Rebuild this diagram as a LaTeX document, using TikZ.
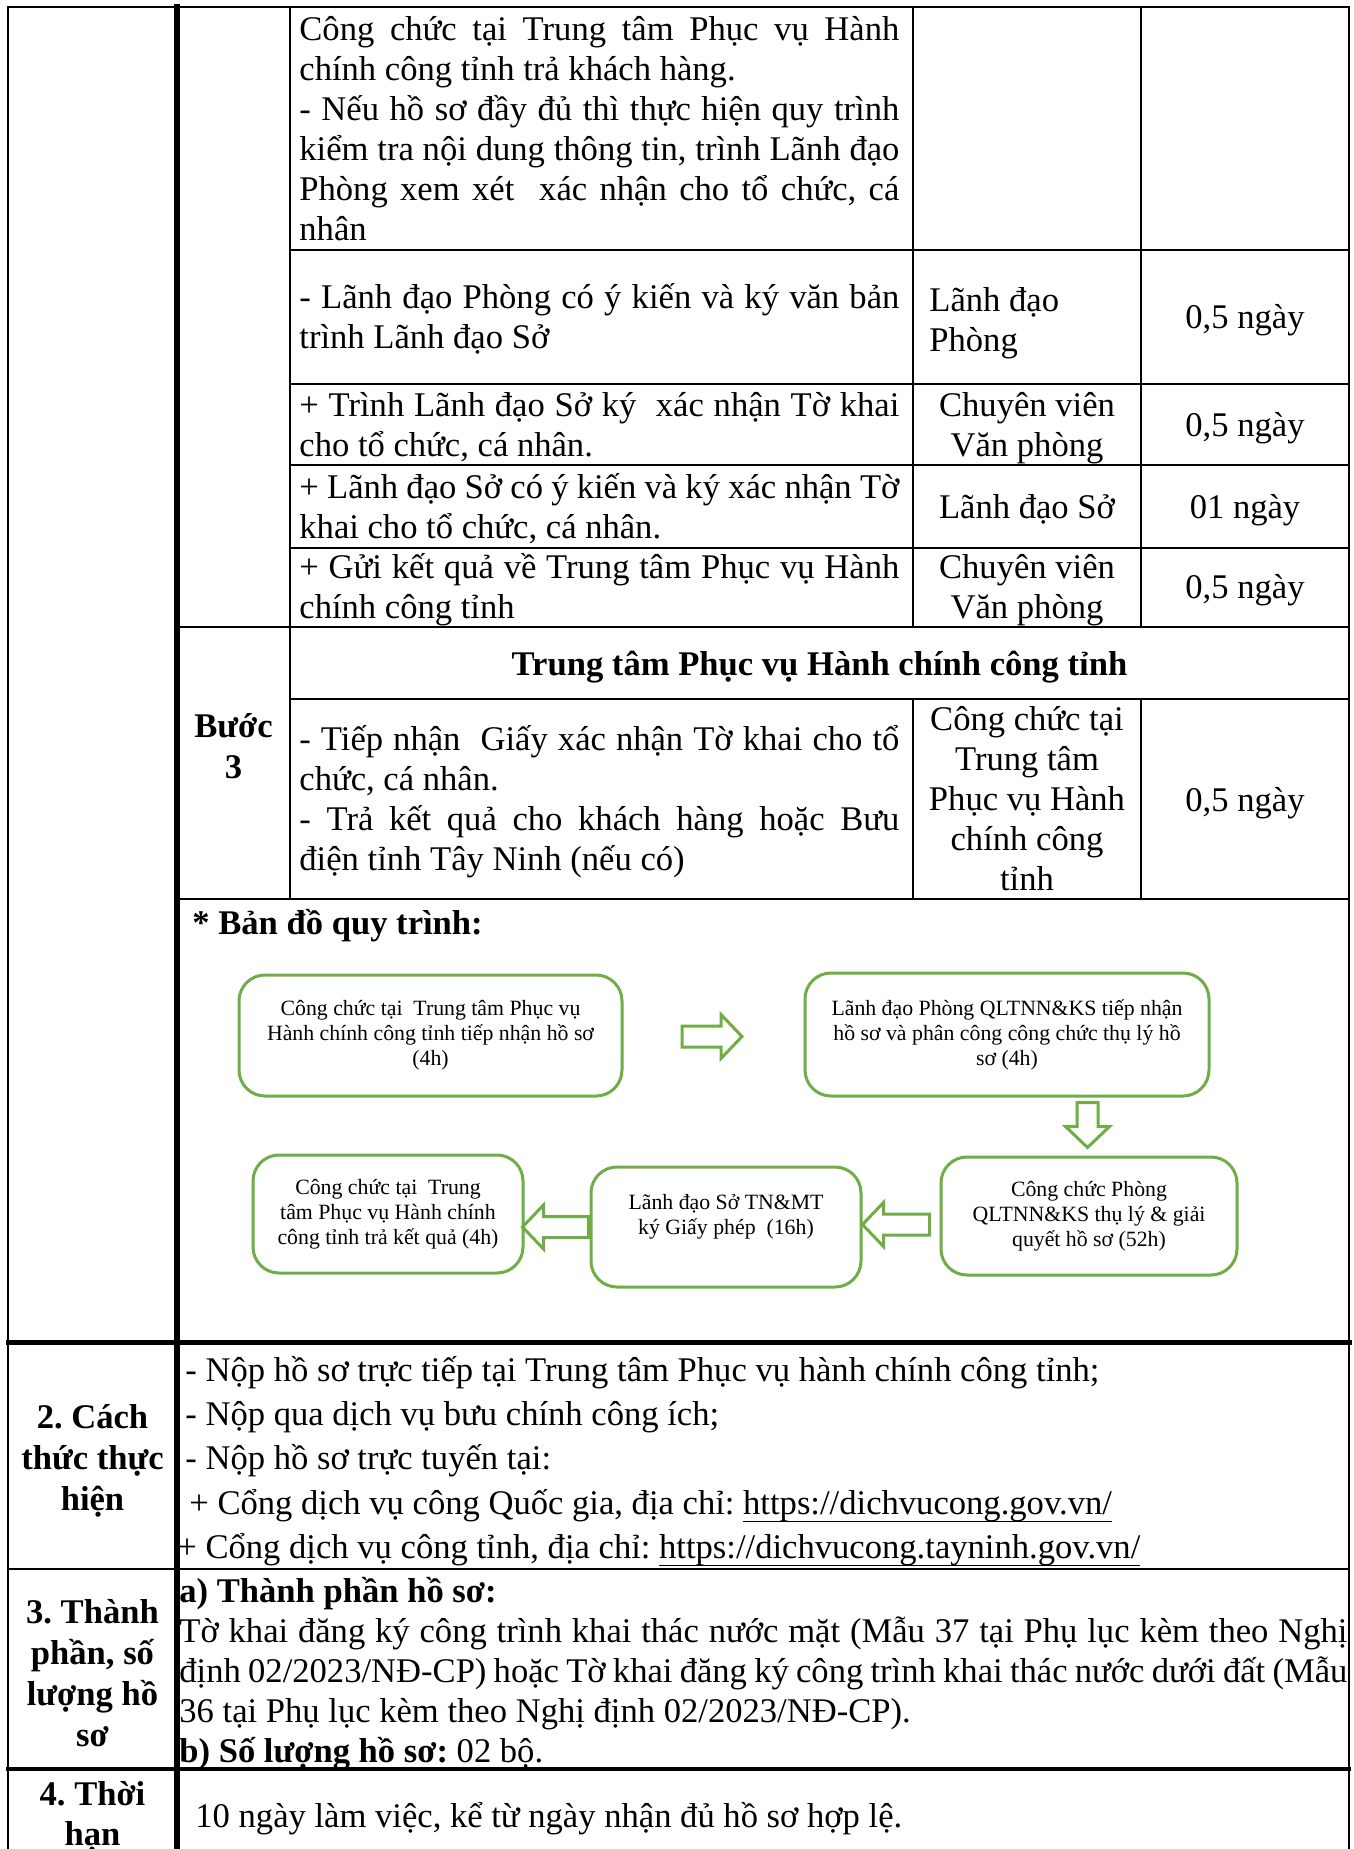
\documentclass[tikz,border=0pt]{standalone}
\usepackage{fontspec}
\setmainfont{Liberation Serif}
\usetikzlibrary{calc}
\frenchspacing
\definecolor{fgreen}{HTML}{70AD47}
\newcommand{\J}[2][300pt]{{\spaceskip=0.25em plus 0.25em minus 0.09em\relax\makebox[#1][s]{#2}}}
\newcommand{\ulink}[1]{\setbox0=\hbox{#1}\rlap{\rule[-3.9pt]{\wd0}{0.7pt}}\box0}
\newcommand{\blockarr}[3]{%
  \draw[barrow, shift={#1}, rotate=#2] (0,0) -- (-21,-22) -- (-21,-10.5) -- (-#3,-10.5) -- (-#3,10.5) -- (-21,10.5) -- (-21,22) -- cycle;}
\tikzset{
  tl/.style={line width=1.25pt, line cap=rect},
  tk/.style={line width=3pt, line cap=rect},
  tx/.style={inner sep=0pt, anchor=base west, align=flush left, font=\fontsize{17.3}{20}\selectfont},
  txc/.style={inner sep=0pt, anchor=base, align=flush center, font=\fontsize{17.3}{20}\selectfont},
  txb/.style={inner sep=0pt, anchor=base, align=flush center, font=\fontsize{17.3}{20.5}\selectfont\bfseries},
  fbox/.style={draw=fgreen, line width=1.5pt, rounded corners=13pt, fill=white, inner sep=0pt, align=flush center, font=\fontsize{10.9}{12.5}\selectfont},
  barrow/.style={draw=fgreen, line width=1.5pt, fill=white, line join=miter},
}
\begin{document}
\begin{tikzpicture}[x=0.5pt,y=-0.5pt]
\fill[white] (0,0) rectangle (1354,1849);
\useasboundingbox (0,0) rectangle (1354,1849);

% ---------- table lines ----------
\draw[tl] (8,7) -- (1349,7);
\draw[line width=1pt] (8,7) -- (8,1849);
\draw[tl] (1349,7) -- (1349,1849);
\draw[tl] (290,7) -- (290,899);
\draw[tl] (913,7) -- (913,627);
\draw[tl] (913,699) -- (913,899);
\draw[tl] (1141,7) -- (1141,627);
\draw[tl] (1141,699) -- (1141,899);
\draw[tl] (290,250) -- (1349,250);
\draw[tl] (290,384) -- (1349,384);
\draw[tl] (290,465) -- (1349,465);
\draw[tl] (290,548) -- (1349,548);
\draw[tl] (177,627) -- (1349,627);
\draw[tl] (290,699) -- (1349,699);
\draw[tl] (177,899) -- (1349,899);
\draw[line width=2.5pt, line cap=rect] (8,1342) -- (1349,1342);
\draw[tl] (8,1569) -- (1349,1569);
\draw[line width=1.75pt, line cap=rect] (8,1769) -- (1349,1769);
\draw[tk] (177,7) -- (177,1849);

% ---------- step rows ----------
\node[tx, text width=300pt] (rA) at (299,40) {\J{Công chức tại Trung tâm Phục vụ Hành}\\chính công tỉnh trả khách hàng.\\\J{- Nếu hồ sơ đầy đủ thì thực hiện quy trình}\\\J{kiểm tra nội dung thông tin, trình Lãnh đạo}\\\J{Phòng xem xét\ \ xác nhận cho tổ chức, cá}\\nhân};

\node[tx, text width=300pt] (rB) at (299,308) {\J{- Lãnh đạo Phòng có ý kiến và ký văn bản}\\trình Lãnh đạo Sở};
\node[tx, text width=100pt] (rBw) at (929,311) {Lãnh đạo\\Phòng};
\node[txc] (rBt) at (1245,328) {0,5 ngày};

\node[tx, text width=300pt] (rC) at (299,416) {\J{+ Trình Lãnh đạo Sở ký\ \ xác nhận Tờ khai}\\cho tổ chức, cá nhân.};
\node[txc, text width=105pt] (rCw) at (1027,416) {Chuyên viên\\Văn phòng};
\node[txc] (rCt) at (1245,436) {0,5 ngày};

\node[tx, text width=300pt] (rD) at (299,498) {\J{+ Lãnh đạo Sở có ý kiến và ký xác nhận Tờ}\\khai cho tổ chức, cá nhân.};
\node[txc] (rDw) at (1027,518) {Lãnh đạo Sở};
\node[txc] (rDt) at (1245,518) {01 ngày};

\node[tx, text width=300pt] (rE) at (299,578) {\J{+ Gửi kết quả về Trung tâm Phục vụ Hành}\\chính công tỉnh};
\node[txc, text width=105pt] (rEw) at (1027,578) {Chuyên viên\\Văn phòng};
\node[txc] (rEt) at (1245,598) {0,5 ngày};

\node[txb] (hdr) at (819.5,675) {Trung tâm Phục vụ Hành chính công tỉnh};
\node[txb, text width=50pt] (b3lab) at (233.5,737) {Bước\\3};
\node[tx, text width=300pt] (rF) at (299,750) {\J{- Tiếp nhận\ \ Giấy xác nhận Tờ khai cho tổ}\\chức, cá nhân.\\\J{- Trả kết quả cho khách hàng hoặc Bưu}\\điện tỉnh Tây Ninh (nếu có)};
\node[txc, text width=105pt] (rFw) at (1027,730) {Công chức tại\\Trung tâm\\Phục vụ Hành\\chính công\\tỉnh};
\node[txc] (rFt) at (1245,811) {0,5 ngày};

\node[tx, font=\fontsize{17.3}{20}\selectfont\bfseries] (mapt) at (192,934) {* Bản đồ quy trình:};

% ---------- flowchart ----------
\node[fbox, minimum width=191.5pt, minimum height=60.5pt, text width=180pt] (b1) at (430.5,1035.5) {Công chức tại\ \ Trung tâm Phục vụ\\Hành chính công tỉnh tiếp nhận hồ sơ\\(4h)};
\node[fbox, minimum width=202pt, minimum height=61.5pt, text width=190pt] (b2) at (1007,1034.5) {Lãnh đạo Phòng QLTNN\&KS tiếp nhận\\hồ sơ và phân công công chức thụ lý hồ\\sơ (4h)};
\node[fbox, minimum width=148pt, minimum height=59pt, text width=138pt] (b3) at (1089,1216) {Công chức Phòng\\QLTNN\&KS thụ lý \& giải\\quyết hồ sơ (52h)};
\node[fbox, minimum width=135pt, minimum height=60pt, text width=125pt] (b4) at (726,1227) {Lãnh đạo Sở TN\&MT\\ký Giấy phép\ \ (16h)\\\mbox{}};
\node[fbox, minimum width=135pt, minimum height=59pt, text width=128pt] (b5) at (388,1214) {Công chức tại\ \ Trung\\tâm Phục vụ Hành chính\\công tỉnh trả kết quả (4h)};

\blockarr{($(b1.east)!0.5!(b2.west)+(28.5,1.5)$)}{0}{60}
\blockarr{($(b3.north)+(-1.5,-8)$)}{-90}{45}
\blockarr{($(b4.east)+(0,-2.5)$)}{180}{67}
\blockarr{($(b5.east)+(-2,13)$)}{180}{66}

% ---------- section 2 ----------
\node[txb, text width=80pt] (s2lab) at (92.5,1428) {2. Cách\\thức thực\\hiện};
\node[tx, text width=580pt, font=\fontsize{17.3}{22.2}\selectfont] (s2) at (185,1381) {- Nộp hồ sơ trực tiếp tại Trung tâm Phục vụ hành chính công tỉnh;\\- Nộp qua dịch vụ bưu chính công ích;\\- Nộp hồ sơ trực tuyến tại:\\\hspace*{2pt}+ Cổng dịch vụ công Quốc gia, địa chỉ: \ulink{https://dichvucong.gov.vn/}\\\hspace*{-4pt}+ Cổng dịch vụ công tỉnh, địa chỉ: \ulink{https://dichvucong.tayninh.gov.vn/}};

% ---------- section 3 ----------
\node[txb, text width=80pt] (s3lab) at (92.5,1623) {3. Thành\\phần, số\\lượng hồ\\sơ};
\node[tx, text width=585pt] (s3) at (179,1602) {\textbf{a) Thành phần hồ sơ:}\\\J[584pt]{Tờ khai đăng ký công trình khai thác nước mặt (Mẫu 37 tại Phụ lục kèm theo Nghị}\\\J[584pt]{định 02/2023/NĐ-CP) hoặc Tờ khai đăng ký công trình khai thác nước dưới đất (Mẫu}\\36 tại Phụ lục kèm theo Nghị định 02/2023/NĐ-CP).\\\textbf{b) Số lượng hồ sơ:} 02 bộ.};

% ---------- section 4 ----------
\node[txb, text width=80pt, font=\fontsize{17.3}{20}\selectfont\bfseries] (s4lab) at (92.5,1805) {4. Thời\\hạn};
\node[tx] (s4) at (195,1827) {10 ngày làm việc, kể từ ngày nhận đủ hồ sơ hợp lệ.};
\end{tikzpicture}
\end{document}
